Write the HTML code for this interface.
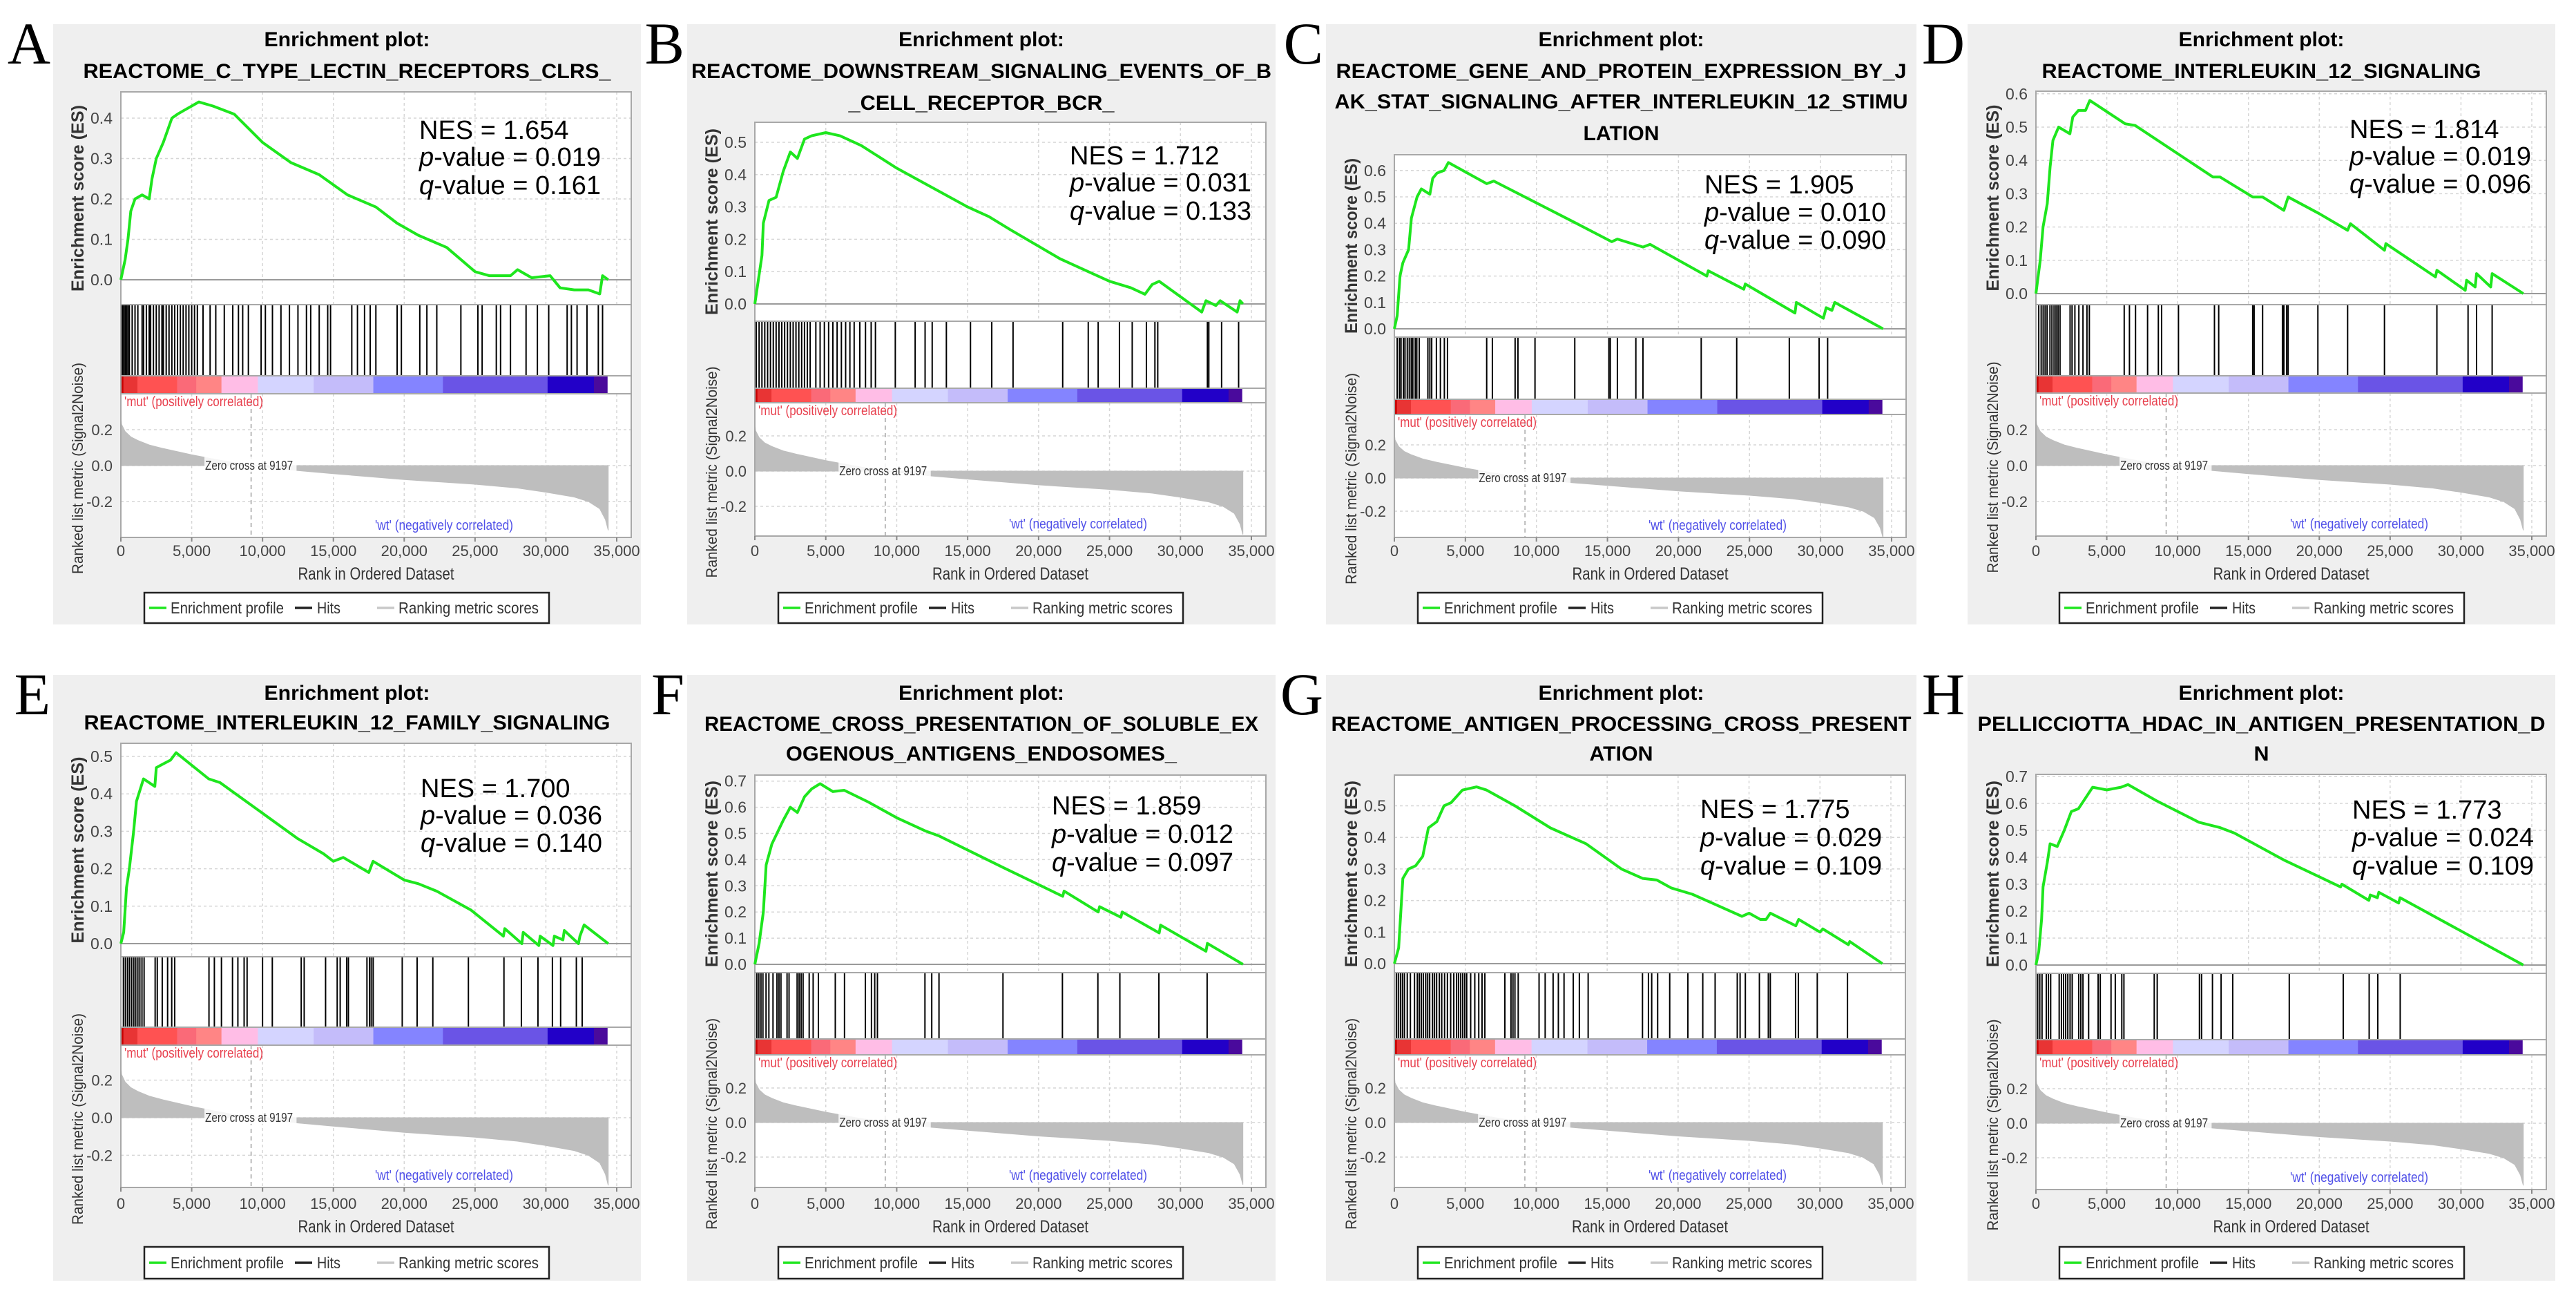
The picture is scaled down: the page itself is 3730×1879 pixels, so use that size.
<!DOCTYPE html>
<html><head><meta charset="utf-8"><style>
html,body{margin:0;padding:0;background:#fff}
svg{display:block}
text{font-family:"Liberation Sans",sans-serif}
</style></head><body>
<svg id="fig" xmlns="http://www.w3.org/2000/svg" width="3730" height="1879" viewBox="0 0 3730 1879">
<rect x="0" y="0" width="3730" height="1879" fill="#fff"/>
</svg>
<script>
// ===== Data (ranks in thousands) =====
const xTickValues=[0,5,10,15,20,25,30,35];
const xTickLabels=["0","5,000","10,000","15,000","20,000","25,000","30,000","35,000"];
const rankTickValues=[0.2,0,-0.2];
const rankTickLabels=["0.2","0.0","-0.2"];
const metricRanks=[0,0.05,0.3,0.7,1.2,2,3,5,7,9.197,12.5,15,20,25,28,30,32,33,33.8,34.2,34.4];
const metricValues=[0.28,0.23,0.19,0.16,0.14,0.115,0.095,0.06,0.03,0,-0.028,-0.045,-0.078,-0.104,-0.125,-0.148,-0.175,-0.2,-0.24,-0.3,-0.36];
const colorBounds=[0,0.18,1.17,3.97,5.32,7.1,9.67,13.61,17.82,22.73,30.12,33.39,34.33];
const zeroCross=9.197;

const esRanksA=[0,0.3,0.5,0.7,1.0,1.5,2.0,2.2,2.5,3.0,3.3,3.6,4.0,4.5,5.0,5.5,6.5,8,10,12,14,16,18,19.5,21,23,25,26,27.5,28,29,30.3,31,32,33,33.8,34.0,34.4];
const esValsA=[0,0.05,0.1,0.17,0.2,0.21,0.2,0.25,0.3,0.34,0.37,0.4,0.41,0.42,0.43,0.44,0.43,0.41,0.34,0.29,0.26,0.21,0.18,0.14,0.11,0.08,0.02,0.01,0.01,0.025,0.005,0.01,-0.02,-0.025,-0.025,-0.035,0.01,0.0];
const hitsA=[0.1,0.2,0.3,0.4,0.5,0.6,0.8,1.0,1.2,1.5,1.6,1.8,2.0,2.1,2.3,2.5,2.7,2.9,3.0,3.2,3.4,3.6,3.8,4.0,4.2,4.4,4.6,4.8,5.0,5.2,5.4,5.8,6.3,6.7,7.3,7.9,8.3,8.6,9.0,9.9,10.2,10.7,11.3,11.9,12.5,13.1,13.4,14.0,14.6,14.8,16.3,16.7,17.2,17.6,18.0,19.5,19.8,21.1,21.6,22.3,24.0,25.2,25.5,26.5,26.8,27.5,28.6,29.4,30.2,31.5,31.8,32.2,32.9,33.7,34.0];

const esRanksB=[0,0.5,0.6,1.0,1.5,2.0,2.5,3.0,3.5,4.0,5,6,7.5,10,12.5,15,16.5,18,21.5,23.5,25,26.5,27.5,28,28.5,31.5,31.8,32.5,32.8,34,34.2,34.4];
const esValsB=[0,0.15,0.25,0.32,0.33,0.41,0.47,0.45,0.51,0.52,0.53,0.52,0.49,0.42,0.36,0.3,0.27,0.23,0.14,0.1,0.07,0.05,0.03,0.06,0.07,-0.025,0.01,-0.005,0.01,-0.025,0.01,0.0];
const hitsB=[0.1,0.3,0.5,0.7,0.9,1.1,1.3,1.5,1.7,1.9,2.1,2.3,2.5,2.7,2.9,3.1,3.3,3.5,3.7,3.9,4.3,4.6,4.9,5.2,5.5,5.8,6.1,6.4,6.7,7.0,7.4,7.8,8.2,8.5,9.9,11.3,12.0,12.5,13.5,15.2,16.7,18.2,21.7,23.5,24.2,25.7,26.6,27.6,28.2,28.4,31.9,32.0,32.9,34.1];

const esRanksC=[0,0.2,0.4,0.6,1,1.2,1.6,1.9,2.5,2.7,3.0,3.5,3.8,6.5,7.0,12.8,15.3,15.7,17.5,18,22,22.1,24.6,24.7,28.2,28.3,30.2,30.4,30.8,31.0,34.4];
const esValsC=[0,0.05,0.2,0.25,0.3,0.42,0.5,0.53,0.51,0.57,0.59,0.6,0.63,0.55,0.56,0.4,0.33,0.34,0.31,0.32,0.2,0.22,0.15,0.17,0.06,0.1,0.04,0.08,0.07,0.1,0.0];
const hitsC=[0.2,0.36,0.47,0.64,0.75,0.91,1.05,1.19,1.3,1.47,1.58,1.75,2.36,2.5,2.63,2.96,3.24,3.52,3.74,6.5,6.9,8.5,8.7,9.9,12.7,15.1,15.2,15.7,17.0,17.5,21.6,24.1,27.8,29.9,30.5];

const esRanksD=[0,0.3,0.5,0.8,1.0,1.2,1.6,2.4,2.6,3.0,3.5,3.8,6.3,7.0,12.5,13,15.3,16,17.5,17.8,20,22,22.2,24.6,24.7,28.2,28.3,30.3,30.4,31,31.1,32.1,32.2,34.4];
const esValsD=[0,0.1,0.2,0.27,0.38,0.46,0.5,0.48,0.53,0.55,0.55,0.58,0.51,0.505,0.35,0.35,0.29,0.29,0.25,0.29,0.24,0.19,0.21,0.13,0.15,0.05,0.07,0.01,0.04,0.02,0.06,0.02,0.06,0.0];
const hitsD=[0.2,0.37,0.51,0.65,0.79,0.99,1.13,1.28,1.42,1.56,1.7,2.41,2.55,2.75,3.03,3.32,3.6,3.77,6.23,6.6,7.03,7.88,8.64,8.87,10.06,12.6,12.9,15.3,15.4,16.0,17.4,17.5,17.7,17.8,19.9,22.0,24.6,28.3,30.5,31.1,32.2];

const esRanksE=[0,0.2,0.4,0.6,0.9,1.1,1.6,2.4,2.5,3,3.5,3.9,6.2,7,12.5,14.3,15,15.7,17.5,17.8,20,21,22.3,24.7,27,27.1,28.3,28.4,29.5,29.6,30.5,30.6,31.2,31.3,32.3,32.4,32.7,34.4];
const esValsE=[0,0.03,0.15,0.2,0.3,0.38,0.44,0.42,0.47,0.48,0.49,0.51,0.44,0.43,0.28,0.24,0.22,0.23,0.19,0.22,0.17,0.16,0.14,0.09,0.02,0.04,0.0,0.03,-0.005,0.02,-0.005,0.02,0.01,0.035,0.0,0.02,0.05,0.0];
const hitsE=[0.18,0.32,0.47,0.61,0.76,0.91,1.05,1.2,1.34,1.49,1.64,2.42,2.57,2.92,3.3,3.59,3.8,6.22,6.6,7.1,7.88,8.26,8.7,8.91,10.0,10.69,12.73,12.94,14.45,15.27,15.48,15.94,16.06,17.37,17.55,17.67,17.81,19.86,20.91,22.02,24.53,27.04,28.27,29.44,30.46,31.04,32.15,32.56];

const esRanksF=[0,0.3,0.6,0.8,1.2,2,2.5,3,3.5,4,4.6,5.5,6.3,8,10,12,13,17.5,21.7,21.8,24.2,24.3,25.8,25.9,28.5,28.6,31.8,31.9,34.4];
const esValsF=[0,0.08,0.2,0.38,0.46,0.55,0.6,0.58,0.64,0.67,0.69,0.66,0.665,0.62,0.56,0.51,0.49,0.37,0.26,0.28,0.2,0.22,0.18,0.2,0.12,0.15,0.05,0.08,0.0];
const hitsF=[0.14,0.28,0.43,0.57,0.79,0.99,1.28,1.56,1.7,1.84,2.27,2.41,2.98,3.12,3.26,3.4,3.83,4.11,4.48,5.67,6.32,7.79,8.22,8.45,8.64,11.99,12.47,12.98,17.49,21.68,24.18,25.73,28.48,31.88];

const esRanksG=[0,0.3,0.6,1,1.5,2,2.4,3,3.5,4,4.8,5.8,6.5,8.5,11,13.5,16,17.5,18.5,19.5,21,22.5,24.5,25,25.8,26.2,26.5,28.3,28.5,30,30.2,32,32.1,34.4];
const esValsG=[0,0.05,0.27,0.3,0.31,0.34,0.43,0.45,0.5,0.51,0.55,0.56,0.55,0.5,0.43,0.38,0.3,0.27,0.265,0.24,0.22,0.19,0.15,0.16,0.14,0.14,0.16,0.12,0.14,0.1,0.11,0.06,0.07,0.0];
const hitsG=[0.14,0.28,0.43,0.57,0.71,0.91,1.13,1.42,1.62,1.76,1.9,2.04,2.21,2.35,2.49,2.69,2.83,2.98,3.17,3.34,3.54,3.74,3.97,4.19,4.39,4.53,4.68,4.82,4.96,5.1,5.38,5.67,5.95,6.18,6.38,7.79,8.22,8.36,8.5,8.73,10.2,10.63,11.19,11.56,11.96,12.61,13.04,13.66,17.49,17.91,18.14,18.56,19.41,20.69,21.74,22.61,24.17,24.37,24.74,25.73,26.36,26.5,28.28,28.48,29.81,31.94];

const esRanksH=[0,0.2,0.4,0.5,0.8,1,1.5,2,2.5,3,3.5,4,5,6,6.5,8.5,11.5,13,14,17.5,21.5,21.6,23.5,23.6,24.1,24.2,25.6,25.7,34.4];
const esValsH=[0,0.05,0.17,0.29,0.38,0.45,0.44,0.5,0.57,0.58,0.62,0.66,0.65,0.66,0.67,0.61,0.53,0.51,0.49,0.39,0.29,0.30,0.24,0.26,0.25,0.27,0.23,0.25,0.0];
const hitsH=[0.12,0.27,0.43,0.73,0.88,1.04,1.64,1.8,1.95,2.1,2.25,2.41,2.56,3.02,3.17,3.32,3.72,4.39,4.54,5.3,5.6,6.06,6.21,8.35,8.56,11.54,11.69,12.46,13.07,13.89,17.88,21.69,23.52,24.13,25.71];

const nesA=["1.654","0.019","0.161"],nesB=["1.712","0.031","0.133"],nesC=["1.905","0.010","0.090"],nesD=["1.814","0.019","0.096"];
const nesE=["1.700","0.036","0.140"],nesF=["1.859","0.012","0.097"],nesG=["1.775","0.029","0.109"],nesH=["1.773","0.024","0.109"];
const esTicksA=[0,0.1,0.2,0.3,0.4],esTicksB=[0,0.1,0.2,0.3,0.4,0.5],esTicksC=[0,0.1,0.2,0.3,0.4,0.5,0.6],esTicksD=[0,0.1,0.2,0.3,0.4,0.5,0.6];
const esTicksE=[0,0.1,0.2,0.3,0.4,0.5],esTicksF=[0,0.1,0.2,0.3,0.4,0.5,0.6,0.7],esTicksG=[0,0.1,0.2,0.3,0.4,0.5],esTicksH=[0,0.1,0.2,0.3,0.4,0.5,0.6,0.7];

// ===== Layout (pixels) =====
const cbColors=["#c80000","#e83434","#ff5252","#fa6a78","#ff8585","#ffbde6","#d4d4ff","#c4bcfa","#8484ff","#6a54e6","#2200c8","#4a0a9c"];
const R1={xl:797,xt:830,lg:[858,902]}, R2={xl:1742,xt:1775,lg:[1805,1851]};
const panels=[
 {id:"a",L:"A",bg:[77,35,928,904],pl:175,pr:914,esTop:133,esZero:405,esPer:585,esBot:441,cb:[544,570],rZero:674,rPer:260,rBot:778,tY:[56,102],tW:[240,764],nx:432,nY:[201,240,281],row:R1,es:[esRanksA,esValsA],hits:hitsA,nes:nesA,ticks:esTicksA,
  title:["Enrichment plot:","REACTOME_C_TYPE_LECTIN_RECEPTORS_CLRS_"]},
 {id:"b",L:"B",bg:[995,35,1847,904],pl:1093,pr:1833,esTop:177,esZero:440,esPer:468,esBot:465,cb:[562,583],rZero:682,rPer:255,rBot:776,tY:[56,102,148],tW:[240,840,385],nx:456,nY:[238,277,318],row:R1,es:[esRanksB,esValsB],hits:hitsB,nes:nesB,ticks:esTicksB,
  title:["Enrichment plot:","REACTOME_DOWNSTREAM_SIGNALING_EVENTS_OF_B","_CELL_RECEPTOR_BCR_"]},
 {id:"c",L:"C",bg:[1920,35,2775,904],pl:2019,pr:2760,esTop:224,esZero:476,esPer:382,esBot:488,cb:[578,600],rZero:692,rPer:240,rBot:778,tY:[56,102,146,192],tW:[240,826,830,110],nx:449,nY:[280,320,360],row:R1,es:[esRanksC,esValsC],hits:hitsC,nes:nesC,ticks:esTicksC,
  title:["Enrichment plot:","REACTOME_GENE_AND_PROTEIN_EXPRESSION_BY_J","AK_STAT_SIGNALING_AFTER_INTERLEUKIN_12_STIMU","LATION"]},
 {id:"d",L:"D",bg:[2849,35,3700,904],pl:2948,pr:3687,esTop:132,esZero:425,esPer:482,esBot:441,cb:[544,569],rZero:674,rPer:260,rBot:776,tY:[56,102],tW:[240,636],nx:454,nY:[200,239,279],row:R1,es:[esRanksD,esValsD],hits:hitsD,nes:nesD,ticks:esTicksD,
  title:["Enrichment plot:","REACTOME_INTERLEUKIN_12_SIGNALING"]},
 {id:"e",L:"E",bg:[77,977,928,1854],pl:175,pr:914,esTop:1076,esZero:1366,esPer:542,esBot:1385,cb:[1487,1513],rZero:1618,rPer:272,rBot:1719,tY:[1002,1045],tW:[240,762],nx:434,nY:[1154,1193,1233],row:R2,es:[esRanksE,esValsE],hits:hitsE,nes:nesE,ticks:esTicksE,
  title:["Enrichment plot:","REACTOME_INTERLEUKIN_12_FAMILY_SIGNALING"]},
 {id:"f",L:"F",bg:[995,977,1847,1854],pl:1093,pr:1833,esTop:1122,esZero:1396,esPer:379,esBot:1408,cb:[1504,1527],rZero:1625,rPer:250,rBot:1719,tY:[1002,1047,1090],tW:[240,802,566],nx:430,nY:[1179,1220,1261],row:R2,es:[esRanksF,esValsF],hits:hitsF,nes:nesF,ticks:esTicksF,
  title:["Enrichment plot:","REACTOME_CROSS_PRESENTATION_OF_SOLUBLE_EX","OGENOUS_ANTIGENS_ENDOSOMES_"]},
 {id:"g",L:"G",bg:[1920,977,2775,1854],pl:2019,pr:2759,esTop:1122,esZero:1395,esPer:457,esBot:1408,cb:[1504,1527],rZero:1625,rPer:250,rBot:1719,tY:[1002,1047,1090],tW:[240,840,92],nx:443,nY:[1184,1225,1266],row:R2,es:[esRanksG,esValsG],hits:hitsG,nes:nesG,ticks:esTicksG,
  title:["Enrichment plot:","REACTOME_ANTIGEN_PROCESSING_CROSS_PRESENT","ATION"]},
 {id:"h",L:"H",bg:[2849,977,3700,1854],pl:2948,pr:3687,esTop:1121,esZero:1397,esPer:390,esBot:1409,cb:[1505,1527],rZero:1626,rPer:250,rBot:1722,tY:[1002,1047,1090],tW:[240,822,22],nx:458,nY:[1185,1225,1266],row:R2,es:[esRanksH,esValsH],hits:hitsH,nes:nesH,ticks:esTicksH,
  title:["Enrichment plot:","PELLICCIOTTA_HDAC_IN_ANTIGEN_PRESENTATION_D","N"]}
];

const NS="http://www.w3.org/2000/svg";
const svg=document.getElementById("fig");
function mk(tag,attrs,parent){const e=document.createElementNS(NS,tag);for(const k in attrs)e.setAttribute(k,attrs[k]);(parent||svg).appendChild(e);return e;}

panels.forEach(p=>{
  const g=mk("g",{});
  
  
  const kx=(p.pr-p.pl)*0.9716/35;
  const X=r=>p.pl+r*kx;
  const YE=v=>p.esZero-v*p.esPer;
  const YR=v=>p.rZero-v*p.rPer;
  const cx=(p.bg[0]+p.bg[2])/2;

  const letter=mk("text",{x:p.bg[0]-4,y:p.bg[1]+57,"text-anchor":"end","font-size":86,style:"font-family:'Liberation Serif',serif",fill:"#000"},g);
  letter.textContent=p.L;
  
  

  const bg=mk("rect",{x:p.bg[0],y:p.bg[1],width:p.bg[2]-p.bg[0],height:p.bg[3]-p.bg[1],fill:"#efefef"},g);
  
  

  p.title.forEach((t,i)=>{
    const tt=mk("text",{x:cx,y:p.tY[i]+11,"text-anchor":"middle","font-size":30,"font-weight":"bold",fill:"#000",textLength:p.tW[i],lengthAdjust:"spacingAndGlyphs"},g);
    tt.textContent=t;
    
    
  });

  const area=mk("rect",{x:p.pl,y:p.esTop,width:p.pr-p.pl,height:p.rBot-p.esTop,fill:"#fff"},g);
  
  

  xTickValues.forEach(v=>{
    const x=X(v);
    [[p.esTop,p.esBot],[p.cb[1],p.rBot]].forEach(s=>{
      const gl=mk("line",{x1:x,x2:x,y1:s[0],y2:s[1],stroke:"#d6d6d6","stroke-width":1.5,"stroke-dasharray":"4,4"},g);
      
      
    });
  });
  p.ticks.forEach(v=>{
    const gl=mk("line",{x1:p.pl,x2:p.pr,y1:YE(v),y2:YE(v),stroke:v===0?"#9a9a9a":"#d6d6d6","stroke-width":v===0?2:1.5,"stroke-dasharray":v===0?"none":"4,4"},g);
    
    
    const tl=mk("text",{x:p.pl-12,y:YE(v)+8,"text-anchor":"end","font-size":23,fill:"#444"},g);
    tl.textContent=v.toFixed(1);
    
    
  });
  rankTickValues.forEach((v,i)=>{
    const gl=mk("line",{x1:p.pl,x2:p.pr,y1:YR(v),y2:YR(v),stroke:"#d6d6d6","stroke-width":1.5,"stroke-dasharray":"4,4"},g);
    
    
    const tl=mk("text",{x:p.pl-12,y:YR(v)+8,"text-anchor":"end","font-size":22,fill:"#444"},g);
    tl.textContent=rankTickLabels[i];
    
    
  });
  const zc=mk("line",{x1:X(zeroCross),x2:X(zeroCross),y1:p.cb[1],y2:p.rBot,stroke:"#bbb","stroke-width":2,"stroke-dasharray":"6,5"},g);
  
  

  let d="M"+X(metricRanks[0])+","+YR(0);
  metricRanks.forEach((r,i)=>{d+=" L"+X(r).toFixed(1)+","+YR(metricValues[i]).toFixed(1);});
  d+=" L"+X(metricRanks[metricRanks.length-1])+","+YR(0)+" Z";
  const mf=mk("path",{d:d,fill:"#bebebe",stroke:"#bebebe","stroke-width":1},g);
  
  
  const zb=mk("rect",{x:X(5.9),y:YR(0)-13,width:X(12.4)-X(5.9),height:22,fill:"#fff",opacity:0.85},g);
  
  
  const zt=mk("text",{x:X(5.95),y:YR(0)+6,"font-size":18,fill:"#333",textLength:127,lengthAdjust:"spacingAndGlyphs"},g);
  zt.textContent="Zero cross at 9197";
  
  

  cbColors.forEach((c,i)=>{
    const r=mk("rect",{x:X(colorBounds[i]),y:p.cb[0],width:X(colorBounds[i+1])-X(colorBounds[i])+0.5,height:p.cb[1]-p.cb[0],fill:c},g);
    
    
  });
  const mutL=mk("text",{x:p.pl+5,y:p.cb[1]+18,"font-size":20,fill:"#e8404e",textLength:201,lengthAdjust:"spacingAndGlyphs"},g);
  mutL.textContent="'mut' (positively correlated)";
  
  
  const wtL=mk("text",{x:p.pl+368,y:p.rBot-11,"font-size":20,fill:"#5050e8",textLength:200,lengthAdjust:"spacingAndGlyphs"},g);
  wtL.textContent="'wt' (negatively correlated)";
  
  

  p.hits.forEach(h=>{
    const l=mk("line",{x1:X(h),x2:X(h),y1:p.esBot,y2:p.cb[0],stroke:"#000","stroke-width":2},g);
    
    
  });

  [p.esBot,p.cb[0],p.cb[1]].forEach(y=>{
    const s=mk("line",{x1:p.pl,x2:p.pr,y1:y,y2:y,stroke:"#a8a8a8","stroke-width":2},g);
    
    
  });
  const fr=mk("rect",{x:p.pl,y:p.esTop,width:p.pr-p.pl,height:p.rBot-p.esTop,fill:"none",stroke:"#a8a8a8","stroke-width":2},g);
  
  

  const pts=p.es[0].map((r,i)=>X(r).toFixed(1)+","+YE(p.es[1][i]).toFixed(1)).join(" ");
  const es=mk("polyline",{points:pts,fill:"none",stroke:"#1ee61e","stroke-width":4,"stroke-linejoin":"round"},g);
  
  

  const nx=p.pl+p.nx;
  const t1=mk("text",{x:nx,y:p.nY[0],"font-size":38,fill:"#000"},g);
  t1.textContent="NES = "+p.nes[0];
  
  
  const t2=mk("text",{x:nx,y:p.nY[1],"font-size":38,fill:"#000"},g);
  t2.innerHTML='<tspan font-style="italic">p</tspan>-value = '+p.nes[1];
  
  
  const t3=mk("text",{x:nx,y:p.nY[2],"font-size":38,fill:"#000"},g);
  t3.innerHTML='<tspan font-style="italic">q</tspan>-value = '+p.nes[2];
  
  

  xTickValues.forEach((v,i)=>{
    const tk=mk("line",{x1:X(v),x2:X(v),y1:p.rBot,y2:p.rBot+6,stroke:"#888","stroke-width":2},g);
    
    
    const tl=mk("text",{x:X(v),y:p.row.xl+8,"text-anchor":"middle","font-size":22,fill:"#444"},g);
    tl.textContent=xTickLabels[i];
    
    
  });
  const xt=mk("text",{x:(p.pl+p.pr)/2,y:p.row.xt+9,"text-anchor":"middle","font-size":25,fill:"#333",textLength:226,lengthAdjust:"spacingAndGlyphs"},g);
  xt.textContent="Rank in Ordered Dataset";
  
  

  const ey=(p.esTop+p.esBot)/2, ex=p.pl-63;
  const yt=mk("text",{x:ex,y:ey,"text-anchor":"middle","font-size":25,"font-weight":"bold",fill:"#333",transform:"rotate(-90 "+ex+" "+ey+") translate(0 9)",textLength:Math.min(270,p.esBot-p.esTop-10),lengthAdjust:"spacingAndGlyphs"},g);
  yt.textContent="Enrichment score (ES)";
  
  
  const ry=(p.cb[1]+p.rBot)/2+4;
  const rt=mk("text",{x:ex,y:ry,"text-anchor":"middle","font-size":22,fill:"#333",transform:"rotate(-90 "+ex+" "+ry+") translate(0 8)",textLength:306,lengthAdjust:"spacingAndGlyphs"},g);
  rt.textContent="Ranked list metric (Signal2Noise)";
  
  

  const lx=p.pl+34, ly=p.row.lg[0], lh=p.row.lg[1]-p.row.lg[0], lc=ly+lh/2;
  const lg=mk("g",{},g);
  
  
  const lb=mk("rect",{x:lx,y:ly,width:586,height:lh,fill:"#fff",stroke:"#222","stroke-width":2.5},lg);
  
  
  const items=[[7,38,"#1ee61e","Enrichment profile",164],[218,250,"#222","Hits",34],[337,368,"#c8c8c8","Ranking metric scores",203]];
  items.forEach(it=>{
    const sw=mk("line",{x1:lx+it[0],x2:lx+it[0]+25,y1:lc,y2:lc,stroke:it[2],"stroke-width":3.5},lg);
    
    
    const tx=mk("text",{x:lx+it[1],y:lc+8,"font-size":23,fill:"#333",textLength:it[4],lengthAdjust:"spacingAndGlyphs"},lg);
    tx.textContent=it[3];
    
    
  });
});
</script>
</body></html>
